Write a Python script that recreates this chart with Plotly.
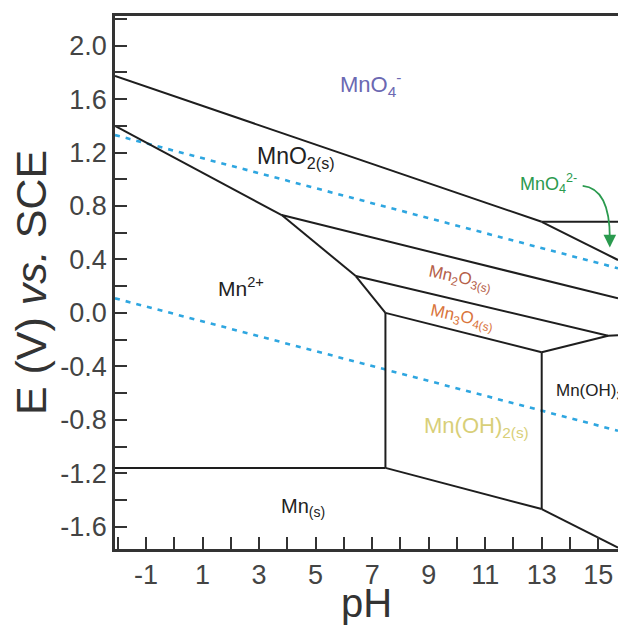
import plotly.graph_objects as go

# ---- data (pH, E vs SCE) ----
mno4_mno2_ph = [-2.1, 13.0];   mno4_mno2_e = [1.773, 0.682]
mno4_mno42_ph = [13.0, 15.7];  mno4_mno42_e = [0.682, 0.682]
mno42_mno2_ph = [13.0, 15.7];  mno42_mno2_e = [0.682, 0.396]
mno2_mn2_ph = [-2.1, 3.8];     mno2_mn2_e = [1.399, 0.732]
mno2_mn2o3_ph = [3.8, 15.7];   mno2_mn2o3_e = [0.732, 0.109]
mn2o3_mn2_ph = [3.8, 6.42];    mn2o3_mn2_e = [0.732, 0.276]
mn2o3_mn3o4_ph = [6.42, 15.35, 15.7]; mn2o3_mn3o4_e = [0.276, -0.171, -0.167]
mn3o4_mn2_ph = [6.42, 7.47];   mn3o4_mn2_e = [0.276, 0.0]
mn3o4_mnoh2_ph = [7.47, 13.0]; mn3o4_mnoh2_e = [0.0, -0.295]
mn3o4_mnoh3_ph = [13.0, 15.35]; mn3o4_mnoh3_e = [-0.295, -0.171]
mn2_mnoh2_ph = [7.47, 7.47];   mn2_mnoh2_e = [0.0, -1.16]
mnoh2_mnoh3_ph = [13.0, 13.0]; mnoh2_mnoh3_e = [-0.295, -1.468]
mn2_mn_ph = [-2.1, 7.47];      mn2_mn_e = [-1.16, -1.16]
mnoh2_mn_ph = [7.47, 13.0];    mnoh2_mn_e = [-1.16, -1.468]
mnoh3_mn_ph = [13.0, 15.7];    mnoh3_mn_e = [-1.468, -1.757]

water_o2_ph = [-2.1, 15.7];    water_o2_e = [1.331, 0.334]
water_h2_ph = [-2.1, 15.7];    water_h2_e = [0.109, -0.882]

x_ticks = [-1, 1, 3, 5, 7, 9, 11, 13, 15]
x_tick_labels = ["-1", "1", "3", "5", "7", "9", "11", "13", "15"]
y_ticks = [-1.6, -1.2, -0.8, -0.4, 0.0, 0.4, 0.8, 1.2, 1.6, 2.0]
y_tick_labels = ["-1.6", "-1.2", "-0.8", "-0.4", "0.0", "0.4", "0.8", "1.2", "1.6", "2.0"]

boundaries = [
    (mno4_mno2_ph, mno4_mno2_e), (mno4_mno42_ph, mno4_mno42_e),
    (mno42_mno2_ph, mno42_mno2_e), (mno2_mn2_ph, mno2_mn2_e),
    (mno2_mn2o3_ph, mno2_mn2o3_e), (mn2o3_mn2_ph, mn2o3_mn2_e),
    (mn2o3_mn3o4_ph, mn2o3_mn3o4_e), (mn3o4_mn2_ph, mn3o4_mn2_e),
    (mn3o4_mnoh2_ph, mn3o4_mnoh2_e), (mn3o4_mnoh3_ph, mn3o4_mnoh3_e),
    (mn2_mnoh2_ph, mn2_mnoh2_e), (mnoh2_mnoh3_ph, mnoh2_mnoh3_e),
    (mn2_mn_ph, mn2_mn_e), (mnoh2_mn_ph, mnoh2_mn_e), (mnoh3_mn_ph, mnoh3_mn_e),
]

fig = go.Figure()
for xs, ys in [(water_o2_ph, water_o2_e), (water_h2_ph, water_h2_e)]:
    fig.add_trace(go.Scatter(x=xs, y=ys, mode="lines", showlegend=False, hoverinfo="skip",
                             line=dict(color="#2ea6e0", width=2.6, dash="5px,6px")))
for xs, ys in boundaries:
    fig.add_trace(go.Scatter(x=xs, y=ys, mode="lines", showlegend=False,
                             line=dict(color="#1e1e1e", width=2)))

FONT = "Liberation Sans, Arial, sans-serif"
def lab(x, y, text, color, size, angle=0, xanchor="center"):
    fig.add_annotation(x=x, y=y, text=text, showarrow=False, textangle=angle,
                       xanchor=xanchor, yanchor="middle",
                       font=dict(family=FONT, size=size, color=color))

lab(6.95, 1.713, "MnO<sub>4</sub><sup>-</sup>", "#6b68b2", 22)
lab(4.30, 1.16, "MnO<sub>2(s)</sub>", "#222222", 23)
lab(2.35, 0.194, "Mn<sup>2+</sup>", "#222222", 21)
lab(13.25, 0.965, "MnO<sub>4</sub><sup>2-</sup>", "#2a9a4e", 18)
lab(10.10, 0.253, "Mn<sub>2</sub>O<sub>3(s)</sub>", "#b5604a", 17, angle=12)
lab(10.17, -0.038, "Mn<sub>3</sub>O<sub>4(s)</sub>", "#d9743c", 17, angle=12)
lab(10.70, -0.854, "Mn(OH)<sub>2(s)</sub>", "#d8cf78", 22)
lab(13.42, -0.577, "Mn(OH)<sub>3</sub><sup>-</sup>", "#222222", 17, xanchor="left")
lab(4.55, -1.453, "Mn<sub>(s)</sub>", "#222222", 20)

# green curved arrow (MnO4^2- pointer)
fig.add_shape(type="path", xref="x", yref="y",
              path="M 14.45,0.95 Q 15.41,0.93 15.41,0.56",
              line=dict(color="#2a9a4e", width=1.8))
fig.add_annotation(x=15.41, y=0.49, ax=15.41, ay=0.57, xref="x", yref="y",
                   axref="x", ayref="y", text="", showarrow=True,
                   arrowhead=2, arrowsize=1.4, arrowwidth=1.8, arrowcolor="#2a9a4e")

axis_common = dict(showline=True, linecolor="#333333", linewidth=2.5,
                   ticks="inside", ticklen=12, tickwidth=2, tickcolor="#333333",
                   showgrid=False, zeroline=False,
                   tickfont=dict(family=FONT, size=27, color="#444444"))

fig.update_layout(
    width=618, height=625,
    margin=dict(l=115, r=0, t=16, b=76),
    paper_bgcolor="white", plot_bgcolor="white",
    xaxis=dict(range=[-2.1, 15.7], tickvals=x_ticks, ticktext=x_tick_labels, mirror=True,
               minor=dict(dtick=1, tick0=0, ticks="inside", ticklen=12, tickwidth=2,
                          tickcolor="#333333"),
               title=dict(text="pH", font=dict(family=FONT, size=40, color="#333333"),
                          standoff=0),
               **axis_common),
    yaxis=dict(range=[-1.767, 2.222], tickvals=y_ticks, ticktext=y_tick_labels,
               minor=dict(dtick=0.2, tick0=0, ticks="inside", ticklen=12, tickwidth=2,
                          tickcolor="#333333"),
               title=dict(text="E (V) <i>vs.</i> SCE",
                          font=dict(family=FONT, size=43, color="#333333"), standoff=1),
               **axis_common),
)

fig.write_html("out.html", config={"displayModeBar": False},
               post_script="document.body.style.margin='0';document.body.style.overflow='hidden';")
